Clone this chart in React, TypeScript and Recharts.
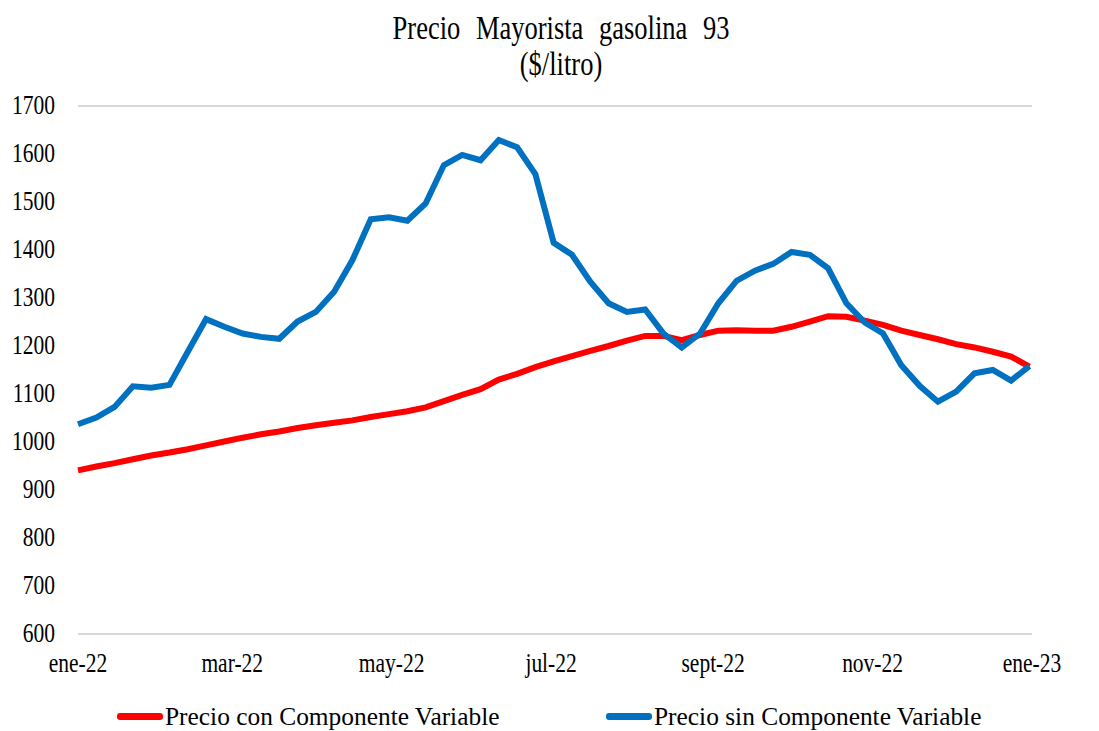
import { CartesianGrid, Legend, Line, LineChart, XAxis, YAxis } from "recharts";

// weekly observations, jan 2022 -> jan 2023 (day offset from 1 jan 2022)
const conComponente = [
  941, 949, 956, 964, 972, 978, 985, 993, 1001, 1009, 1016, 1022, 1029, 1035,
  1040, 1045, 1052, 1058, 1064, 1072, 1085, 1098, 1110, 1130, 1142, 1156, 1168,
  1179, 1190, 1200, 1211, 1221, 1221, 1212, 1223, 1232, 1233, 1232, 1232, 1240,
  1251, 1262, 1261, 1253, 1244, 1232, 1223, 1214, 1204, 1197, 1188, 1178, 1157,
];
const sinComponente = [
  1037, 1051, 1073, 1116, 1113, 1119, 1188, 1256, 1240, 1226, 1219, 1215, 1251,
  1271, 1313, 1379, 1464, 1468, 1461, 1497, 1577, 1598, 1587, 1629, 1614, 1558,
  1415, 1390, 1334, 1289, 1271, 1276, 1226, 1197, 1226, 1289, 1336, 1357, 1371,
  1396, 1390, 1362, 1289, 1249, 1226, 1160, 1117, 1084, 1105, 1143, 1150, 1128,
  1158,
];
const monthTicks = [0, 59, 120, 181, 243, 304, 365];
const monthLabels = ["ene-22", "mar-22", "may-22", "jul-22", "sept-22", "nov-22", "ene-23"];
const yTicks = [600, 700, 800, 900, 1000, 1100, 1200, 1300, 1400, 1500, 1600, 1700];

const data = conComponente.map((v, i) => ({
  day: i * 7,
  con: v,
  sin: sinComponente[i],
}));

const FONT = "'Liberation Serif', 'Times New Roman', serif";
const STRETCH = 1.25; // source image text is taller than it is wide

// tick text, stretched vertically like the original
function TallTick(props: any) {
  const { x, y, payload, textAnchor, kind } = props;
  const label = kind === "x" ? monthLabels[monthTicks.indexOf(payload.value)] : payload.value;
  const dy = kind === "x" ? 14.4 : 6.2;
  return (
    <g transform={`translate(${x} ${y}) scale(1 ${STRETCH})`}>
      <text x={0} y={0} dy={dy} textAnchor={textAnchor} fontFamily={FONT} fontSize={21.5} fill="#000">
        {label}
      </text>
    </g>
  );
}

function LegendContent() {
  const items = [
    { label: "Precio con Componente Variable", color: "#ff0000", left: 117 },
    { label: "Precio sin Componente Variable", color: "#0070c0", left: 606 },
  ];
  return (
    <div style={{ position: "relative", height: 47, fontFamily: FONT, fontSize: 25.4, color: "#000" }}>
      {items.map((it) => (
        <div
          key={it.label}
          style={{ position: "absolute", left: it.left, top: 18, display: "flex", alignItems: "center", whiteSpace: "nowrap" }}
        >
          <span style={{ display: "inline-block", width: 46, height: 7, background: it.color, borderRadius: 3, marginRight: 2 }} />
          <span>{it.label}</span>
        </div>
      ))}
    </div>
  );
}

export default function App() {
  return (
    <div style={{ position: "absolute", left: 0, top: 0, width: 1099, height: 731, background: "#fff" }}>
      <div
        style={{
          position: "absolute",
          left: 0,
          width: 1122,
          top: 9.5,
          textAlign: "center",
          fontFamily: FONT,
          fontSize: 26.5,
          lineHeight: "29px",
          wordSpacing: 9,
          color: "#000",
          transform: `scaleY(${STRETCH})`,
          transformOrigin: "0 0",
        }}
      >
        <div>Precio Mayorista gasolina 93</div>
        <div>($/litro)</div>
      </div>
      <LineChart width={1099} height={731} data={data} margin={{ top: 106, right: 0, bottom: 0, left: 0 }}>
        <CartesianGrid vertical={false} stroke="#d9d9d9" strokeWidth={2} />
        <XAxis
          dataKey="day"
          type="number"
          domain={[0, 365]}
          ticks={monthTicks}
          axisLine={false}
          tickLine={false}
          tick={<TallTick kind="x" />}
          tickMargin={14}
          height={50}
          interval={0}
        />
        <YAxis
          yAxisId="left"
          domain={[600, 1700]}
          ticks={yTicks}
          axisLine={false}
          tickLine={false}
          tick={<TallTick kind="y" />}
          tickMargin={17}
          width={78}
          interval={0}
        />
        <YAxis
          yAxisId="right"
          orientation="right"
          domain={[600, 1700]}
          ticks={yTicks}
          axisLine={false}
          tickLine={false}
          tick={<TallTick kind="y" />}
          tickMargin={14}
          width={67}
          interval={0}
        />
        <Legend verticalAlign="bottom" height={47} content={() => <LegendContent />} />
        <Line
          yAxisId="left"
          dataKey="con"
          name="Precio con Componente Variable"
          stroke="#ff0000"
          strokeWidth={6}
          dot={false}
          isAnimationActive={false}
        />
        <Line
          yAxisId="left"
          dataKey="sin"
          name="Precio sin Componente Variable"
          stroke="#0070c0"
          strokeWidth={6}
          dot={false}
          isAnimationActive={false}
        />
      </LineChart>
    </div>
  );
}
